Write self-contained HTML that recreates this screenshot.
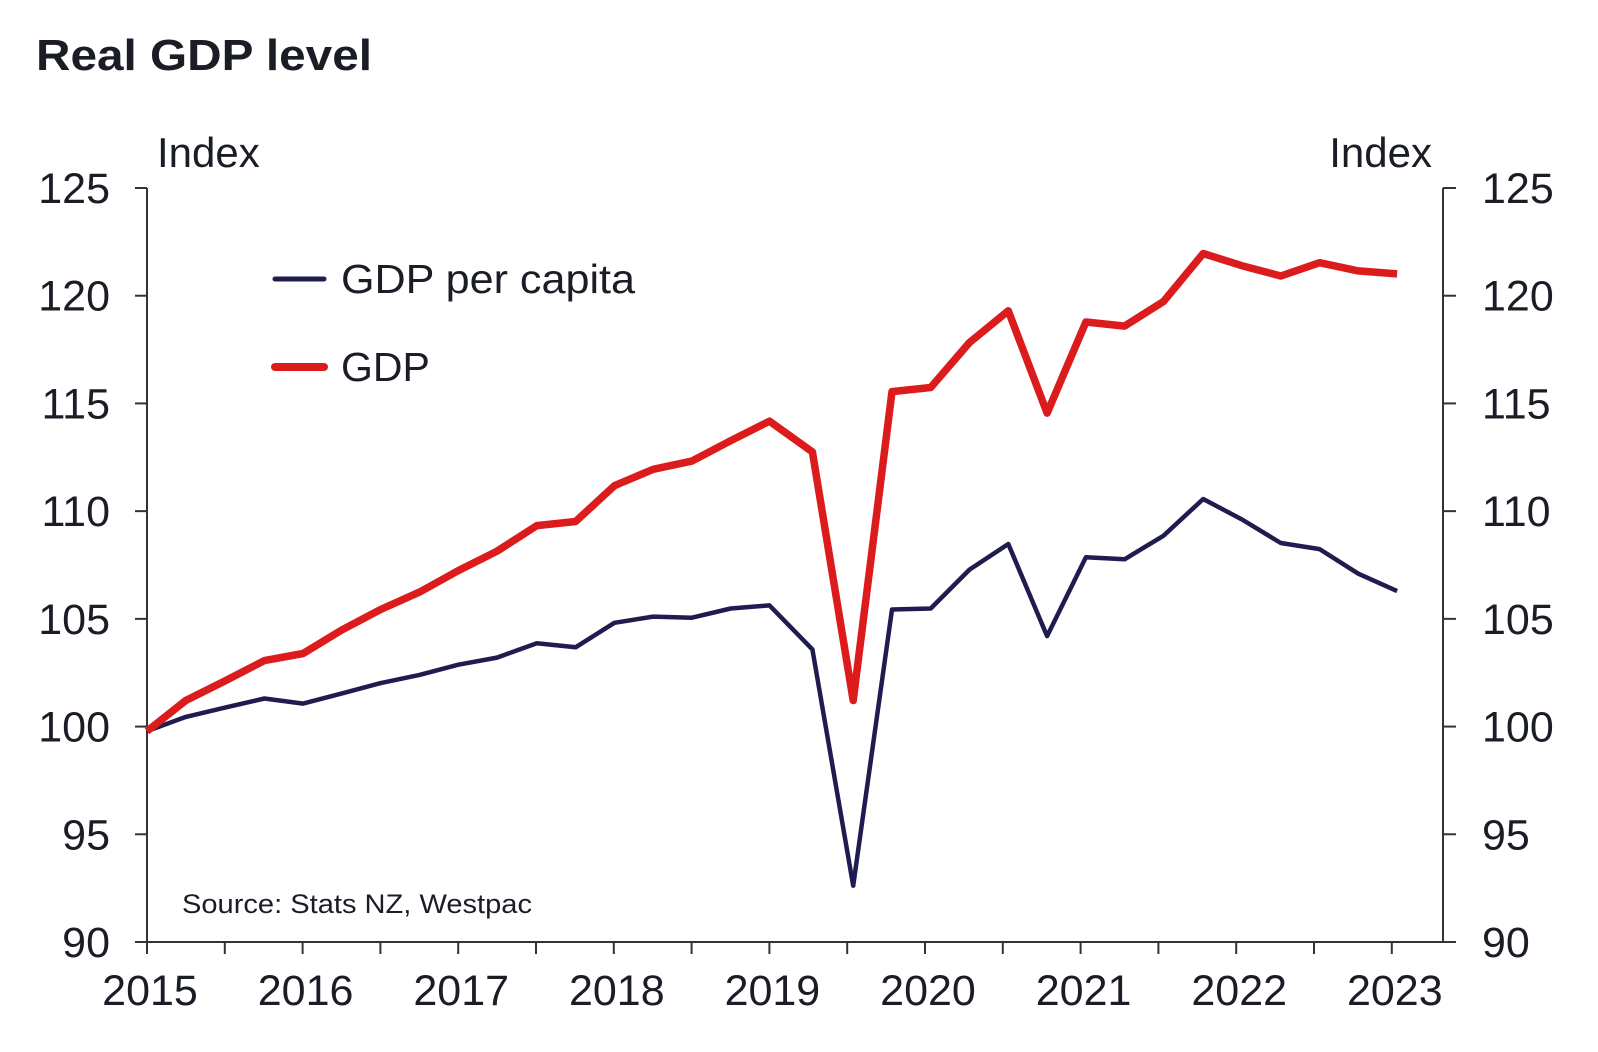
<!DOCTYPE html>
<html><head><meta charset="utf-8"><style>
body{margin:0;background:#fff;}
svg{display:block;font-family:"Liberation Sans",Arial,sans-serif;}
</style></head><body>
<svg id="s" width="1598" height="1052" viewBox="0 0 1598 1052" xmlns="http://www.w3.org/2000/svg">
<text x="36" y="70" font-size="44" font-weight="bold" fill="#1a1d26" textLength="336" lengthAdjust="spacingAndGlyphs">Real GDP level</text>
<text x="157" y="167" font-size="42" fill="#1a1d26">Index</text>
<text x="1432" y="167" font-size="42" fill="#1a1d26" text-anchor="end">Index</text>
<g id="ax" stroke="#333" stroke-width="2" fill="none"></g>
<g id="lab" font-size="43" fill="#1a1d26"></g>
<text x="182" y="913" font-size="27" fill="#1a1d26" textLength="350" lengthAdjust="spacingAndGlyphs">Source: Stats NZ, Westpac</text>
<line x1="275" y1="279" x2="324" y2="279" stroke="#1f1d4f" stroke-width="5" stroke-linecap="round"/>
<text x="341" y="293" font-size="41" fill="#1a1d26" textLength="294" lengthAdjust="spacingAndGlyphs">GDP per capita</text>
<line x1="275" y1="367" x2="324" y2="367" stroke="#dc1c1c" stroke-width="8" stroke-linecap="round"/>
<text x="341" y="381" font-size="41" fill="#1a1d26">GDP</text>
<polyline id="navy" fill="none" stroke="#1f1d4f" stroke-width="4.5" stroke-linejoin="round"/>
<polyline id="red" fill="none" stroke="#dc1c1c" stroke-width="7.5" stroke-linejoin="round"/>
</svg>
<script>
var NS="http://www.w3.org/2000/svg";
function el(p,t,a,txt){var e=document.createElementNS(NS,t);for(var k in a)e.setAttribute(k,a[k]);if(txt)e.textContent=txt;p.appendChild(e);return e;}
var ax=document.getElementById('ax'),lab=document.getElementById('lab');
var L=147,R=1443,T=188,B=942;
el(ax,'line',{x1:L,y1:T,x2:L,y2:B});
el(ax,'line',{x1:R,y1:T,x2:R,y2:B});
el(ax,'line',{x1:L-12,y1:B,x2:R+13,y2:B});
for(var i=0;i<=7;i++){var y=T+i*(B-T)/7;var v=125-5*i;
el(ax,'line',{x1:L-12,y1:y,x2:L,y2:y});el(ax,'line',{x1:R,y1:y,x2:R+13,y2:y});
el(lab,'text',{x:110,y:y+15,'text-anchor':'end'},v);
el(lab,'text',{x:1482,y:y+15},v);}
var yr=155.6;
for(var i=0;i<=16;i++){var x=L+i*yr/2;el(ax,'line',{x1:x,y1:B,x2:x,y2:B+12});
if(i%2==0)el(lab,'text',{x:x+3,y:1005,'text-anchor':'middle'},2015+i/2);}
function tr(a){return a.map(function(p){return (147+(p[0]-145)*1.0205).toFixed(1)+','+(188+(p[1]-185)*1.023).toFixed(1)}).join(' ');}
var red=[[145,716],[183,686],[221,667],[260,647],[298,640],[336,617],[374,597],[412,580],[450,559],[488,540],[527,515],[565,511],[603,476],[641,460],[679,452],[717,432],[755,413],[797,443],[837,686],[875,384],[913,380],[951,336],[989,305],[1027,405],[1065,316],[1103,320],[1141,296],[1180,249],[1218,261],[1256,271],[1294,258],[1332,266],[1370,269]];
var navy=[[145,716],[183,702],[221,693],[260,684],[298,689],[336,679],[374,669],[412,661],[450,651],[488,644],[527,630],[565,634],[603,610],[641,604],[679,605],[717,596],[755,593],[797,636],[837,867],[875,597],[913,596],[951,558],[989,533],[1027,623],[1065,546],[1103,548],[1141,525],[1180,489],[1218,509],[1256,532],[1294,538],[1332,562],[1370,579]];
document.getElementById('red').setAttribute('points',tr(red));
document.getElementById('navy').setAttribute('points',tr(navy));
</script>
</body></html>
